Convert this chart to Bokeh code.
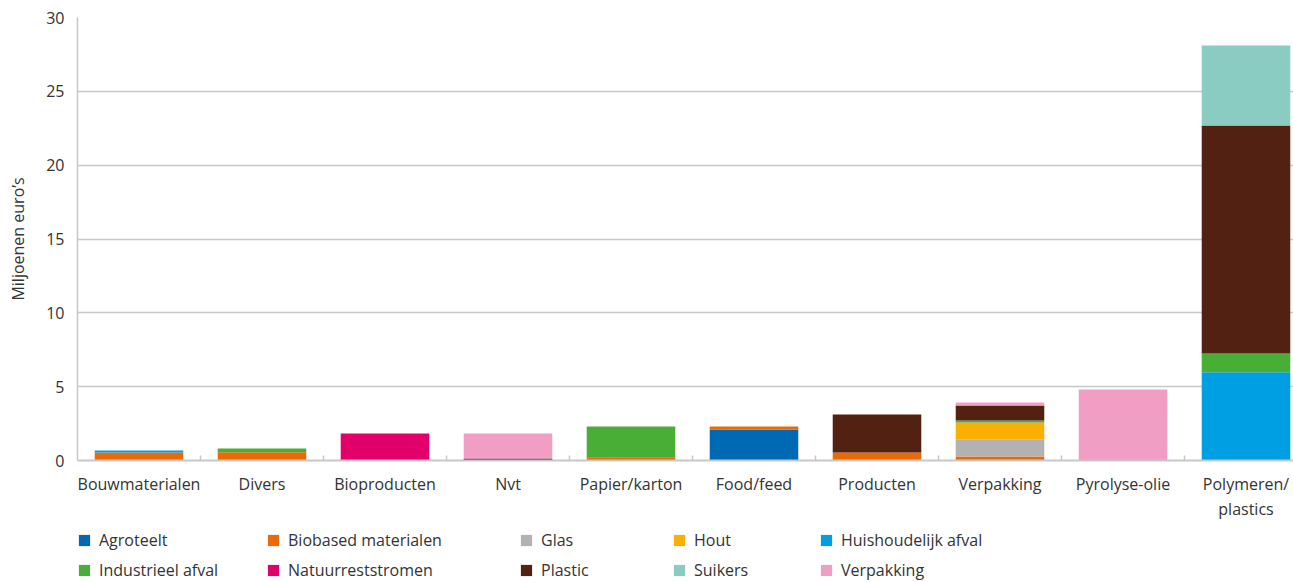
from bokeh.plotting import figure
from bokeh.layouts import column
from bokeh.models import (ColumnDataSource, Range1d, FixedTicker, Legend, LegendItem)
from bokeh.embed import file_html
from bokeh.resources import INLINE

categories = ["Bouwmaterialen", "Divers", "Bioproducten", "Nvt", "Papier/karton",
              "Food/feed", "Producten", "Verpakking", "Pyrolyse-olie", "Polymeren/\nplastics"]

series_names = ["Agroteelt", "Biobased materialen", "Glas", "Hout", "Huishoudelijk afval",
                "Industrieel afval", "Natuurreststromen", "Plastic", "Suikers", "Verpakking"]

agroteelt     = [0, 0, 0, 0, 0, 2.10, 0, 0, 0, 0]
biobased      = [0.55, 0.56, 0, 0, 0.18, 0.20, 0.54, 0.27, 0, 0]
glas          = [0, 0, 0, 0, 0, 0, 0, 1.13, 0, 0]
hout          = [0, 0, 0, 0, 0, 0, 0, 1.17, 0, 0]
huishoudelijk = [0.12, 0, 0, 0, 0, 0, 0, 0, 0, 5.98]
industrieel   = [0, 0.25, 0, 0, 2.12, 0, 0, 0.14, 0, 1.26]
natuur        = [0, 0, 1.82, 0, 0, 0, 0, 0, 0, 0]
plastic       = [0, 0, 0, 0.13, 0, 0, 2.57, 1.01, 0, 15.44]
suikers       = [0, 0, 0, 0, 0, 0, 0, 0, 0, 5.42]
verpakking    = [0, 0, 0, 1.69, 0, 0, 0, 0.20, 4.81, 0]

colors = ["#0069b4", "#ec6a06", "#b2b2b2", "#f9b000", "#009fe3",
          "#48ae35", "#e2006a", "#532111", "#8accc1", "#f09ec4"]

values = [agroteelt, biobased, glas, hout, huishoudelijk,
          industrieel, natuur, plastic, suikers, verpakking]
keys = ["s%d" % i for i in range(len(series_names))]

data = {"x": [i + 0.5 for i in range(len(categories))]}
for k, v in zip(keys, values):
    data[k] = v
source = ColumnDataSource(data)

TEXT = "#333333"
GRID = "#c8c8c8"
FONT = "Open Sans"
W = 1293

p = figure(width=W, height=529, output_backend="svg", toolbar_location=None,
           x_range=Range1d(0, 1216 / 123), y_range=Range1d(0, 30))
p.min_border_left = 77
p.min_border_right = 0
p.min_border_top = 17
p.min_border_bottom = 69
p.outline_line_color = None

renderers = p.vbar_stack(keys, x="x", width=0.72, source=source,
                         color=colors, line_color=None)

xa = p.xaxis[0]
xa.ticker = FixedTicker(ticks=[i + 0.5 for i in range(len(categories))],
                        minor_ticks=list(range(1, len(categories))))
xa.major_label_overrides = {i + 0.5: c for i, c in enumerate(categories)}
xa.major_tick_in = 0
xa.major_tick_out = 0
xa.minor_tick_in = 5
xa.minor_tick_out = 0
xa.minor_tick_line_color = GRID
xa.minor_tick_line_width = 1.5
xa.axis_line_color = GRID
xa.axis_line_width = 2
xa.major_label_standoff = 12
xa.major_label_text_font = FONT
xa.major_label_text_font_size = "16px"
xa.major_label_text_color = TEXT
xa.major_label_text_line_height = 1.15

ya = p.yaxis[0]
ya.ticker = FixedTicker(ticks=[0, 5, 10, 15, 20, 25, 30])
ya.major_tick_in = 0
ya.major_tick_out = 0
ya.minor_tick_line_color = None
ya.axis_line_color = GRID
ya.axis_line_width = 1.5
ya.major_label_standoff = 13
ya.major_label_text_font = FONT
ya.major_label_text_font_size = "16px"
ya.major_label_text_color = TEXT
ya.axis_label = "Miljoenen euro\u2019s"
ya.axis_label_text_font = FONT
ya.axis_label_text_font_size = "16px"
ya.axis_label_text_font_style = "normal"
ya.axis_label_text_color = TEXT
ya.axis_label_standoff = 14

p.xgrid.grid_line_color = None
p.ygrid.grid_line_color = GRID
p.ygrid.grid_line_width = 1.5

# legend panel below the chart
q = figure(width=W, height=52, output_backend="svg", toolbar_location=None,
           x_range=Range1d(0, 1), y_range=Range1d(1000, 1001),
           x_axis_location=None, y_axis_location=None)
q.min_border_left = 0
q.min_border_right = 0
q.min_border_top = 0
q.min_border_bottom = 0
q.outline_line_color = None
q.xgrid.visible = False
q.ygrid.visible = False
proxies = q.vbar_stack(keys, x="x", width=0.72, source=source,
                       color=colors, line_color=None)

col_x = [0, 189, 442, 595, 742]
for c in range(5):
    items = [LegendItem(label=series_names[c], renderers=[proxies[c]]),
             LegendItem(label=series_names[c + 5], renderers=[proxies[c + 5]])]
    lg = Legend(items=items, location=(col_x[c], 0), orientation="vertical",
                padding=0, margin=0, border_line_color=None, background_fill_alpha=0,
                glyph_width=14, glyph_height=14, label_standoff=8,
                label_height=18, spacing=8,
                label_text_font=FONT, label_text_font_size="16px",
                label_text_color=TEXT)
    q.add_layout(lg, "center")

layout = column(p, q, spacing=0)
open("out.html", "w").write(file_html(layout, INLINE))
